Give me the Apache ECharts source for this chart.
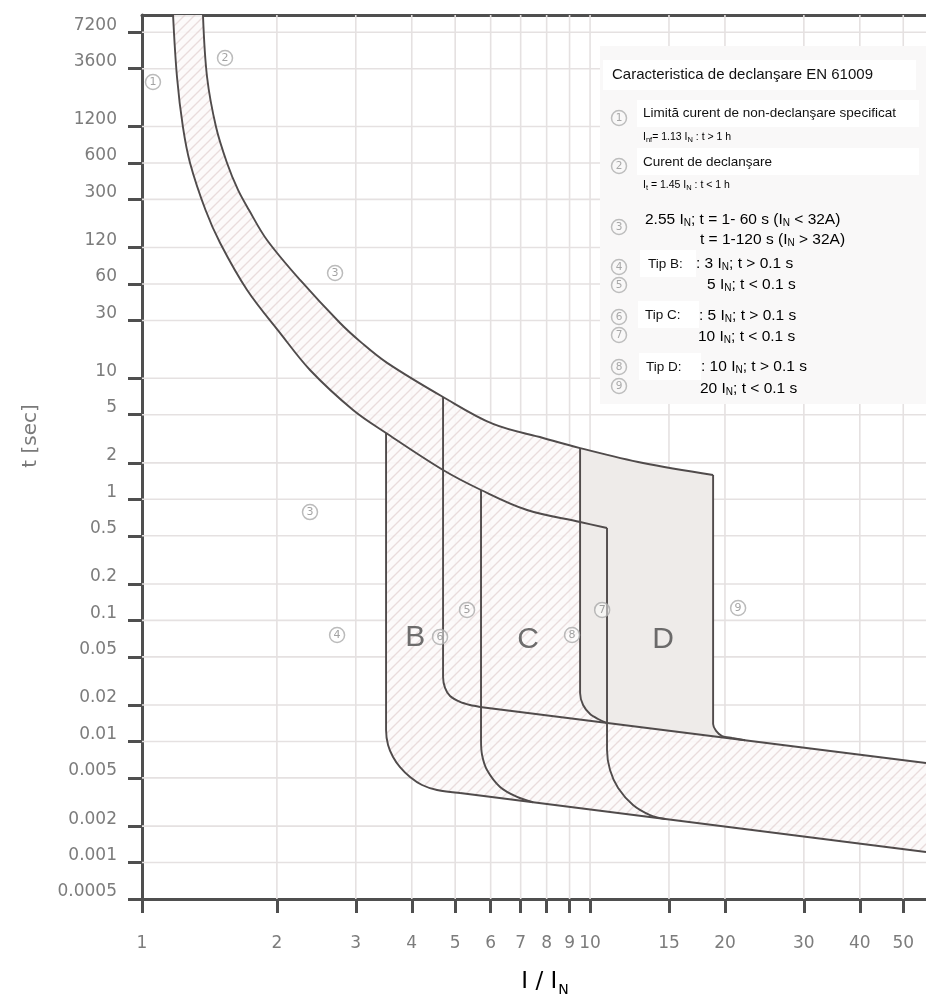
<!DOCTYPE html>
<html><head><meta charset="utf-8">
<script src="https://cdn.jsdelivr.net/npm/echarts@6/dist/echarts.min.js"></script>
<style>html,body{margin:0;padding:0;background:#fff}#c{width:926px;height:999px}</style>
</head><body><div id="c"></div>
<script>
// ---------- data (I/In , t[s]) ----------
const xTicks = [1,2,3,4,5,6,7,8,9,10,15,20,30,40,50];
const yTicks = [7200,3600,1200,600,300,120,60,30,10,5,2,1,0.5,0.2,0.1,0.05,0.02,0.01,0.005,0.002,0.001,0.0005];
const xRange = [1, 56.2];
const yRange = [0.0005, 10000];

// (1) non-tripping limit, thermal band lower edge
const curveNonTrip = [[1.173,10000],[1.197,3076],[1.234,1189],[1.280,600],[1.386,245],[1.494,131],[1.716,53.6],[2.032,23.7],[2.371,11.7],[2.958,5.47],[3.505,3.53],[4.698,1.746],[5.71,1.194],[7.234,0.816],[9.50,0.650],[10.91,0.579]];
// (2) tripping current, thermal band upper edge
const curveTrip = [[1.368,10000],[1.397,3076],[1.463,1189],[1.548,600],[1.638,359],[1.733,245],[1.901,138.6],[2.253,64.8],[2.767,28.6],[3.098,19.5],[3.524,13.4],[4.698,7.0],[6.074,4.19],[7.855,3.21],[9.50,2.65],[13.13,1.995],[18.82,1.588]];
// magnetic release limits
const bLeft  = [[3.505,3.53],[3.505,0.01245],[3.541,0.00935],[3.633,0.00745],[3.766,0.00615],[3.965,0.00509],[4.217,0.00437],[4.555,0.00397],[5.127,0.003753]];
const bRight = [[4.698,7.0],[4.698,0.0341],[4.746,0.0277],[4.870,0.02375],[5.127,0.0212],[5.397,0.0200],[5.681,0.01928]];
const cLeft  = [[5.71,1.194],[5.71,0.01028],[5.741,0.00773],[5.889,0.00581],[6.297,0.00421],[6.873,0.00348],[7.461,0.00315]];
const cRight = [[9.50,2.65],[9.50,0.0251],[9.647,0.0200],[10.0,0.01686],[10.42,0.01534],[10.91,0.0142]];
const dLeft  = [[10.91,0.579],[10.91,0.00851],[11.08,0.00581],[11.55,0.00413],[12.47,0.00299],[13.61,0.00247],[14.71,0.00229]];
const dRight = [[18.82,1.588],[18.82,0.01393],[19.11,0.01222],[19.71,0.01109],[20.75,0.0107],[22.18,0.01023]];
// short-circuit band edges
const scLower = [[5.127,0.003753],[56.2,0.001223]];
const scUpper = [[5.681,0.01928],[56.2,0.00664]];

// annotations inside the plot
const circledMarks = [['1',1.058,2797],['2',1.532,4416],['3',2.697,74.0],['3',2.371,0.785],['4',2.725,0.0757],['5',5.314,0.122],['6',4.626,0.0730],['7',10.64,0.122],['8',9.116,0.0757],['9',21.4,0.1265]];
const typeLetters = [['B',4.07,0.0716],['C',7.27,0.0689],['D',14.55,0.0689]];

// legend panel texts
const legendTitle = 'Caracteristica de declanşare EN 61009';
const legendMain = ['Limită curent de non-declanşare specificat','Curent de declanşare'];
const legendTypes = ['Tip B:','Tip C:','Tip D:'];
const yName = 't [sec]';

// ---------- helpers ----------
const L = Math.log10;
const lg = p => [L(p[0]), L(p[1])];
const X0 = L(xRange[0]), X1 = L(xRange[1]), Y0 = L(yRange[0]), Y1 = L(yRange[1]);
const fmt = ticks => v => { let best = ticks[0], d = 1e9; for (const t of ticks) { const e = Math.abs(L(t) - v); if (e < d) { d = e; best = t; } } return String(best); };

function makeHatch() {
  const c = document.createElement('canvas'); c.width = 10; c.height = 10;
  const g = c.getContext('2d');
  g.strokeStyle = 'rgba(218,196,196,0.55)'; g.lineWidth = 1.4;
  g.beginPath();
  g.moveTo(-1,11); g.lineTo(11,-1);
  g.moveTo(-3,3); g.lineTo(3,-3);
  g.moveTo(7,13); g.lineTo(13,7);
  g.stroke();
  return c;
}
const hatch = makeHatch();

const envelope = [
  ...curveNonTrip.slice(0, 11),
  ...bLeft.slice(1),
  ...scLower.slice(1),
  scUpper[1],
  ...dRight.slice().reverse(),
  ...curveTrip.slice(0, -1).reverse()
];
const grayZone = [
  ...curveTrip.filter(p => p[0] >= 9.5),
  ...dRight.slice(1),
  ...cRight.slice().reverse()
];

function polySeries(pts, style, z) {
  return { type: 'custom', coordinateSystem: 'cartesian2d', data: [[0, 0]], z: z, silent: true,
    renderItem: (params, api) => ({ type: 'polygon', shape: { points: pts.map(p => api.coord(lg(p))) }, style: style }) };
}
const lineColor = '#504b4b';
function lineSeries(pts, smooth) {
  return { type: 'line', data: pts.map(lg), showSymbol: false, symbol: 'none', smooth: smooth, z: 5, silent: true,
    lineStyle: { color: lineColor, width: 1.9 } };
}
const gridColor = '#e5e1e1';

const series = [
  { type: 'custom', coordinateSystem: 'cartesian2d', z: 1, silent: true,
    data: xTicks.slice(1).map(v => [L(v), 0]),
    renderItem: (p, api) => { const a = api.coord([api.value(0), Y0]), b = api.coord([api.value(0), Y1]);
      return { type: 'line', shape: { x1: a[0], y1: a[1], x2: b[0], y2: b[1] }, style: { stroke: gridColor, lineWidth: 1.6 } }; } },
  { type: 'custom', coordinateSystem: 'cartesian2d', z: 1, silent: true,
    data: yTicks.slice(0, -1).map(v => [0, L(v)]),
    renderItem: (p, api) => { const a = api.coord([X0, api.value(1)]), b = api.coord([X1, api.value(1)]);
      return { type: 'line', shape: { x1: a[0], y1: a[1], x2: b[0], y2: b[1] }, style: { stroke: gridColor, lineWidth: 1.6 } }; } },
  polySeries(envelope, { fill: 'rgba(252,249,249,0.9)' }, 2),
  polySeries(envelope, { fill: { image: hatch, repeat: 'repeat' } }, 2),
  polySeries(grayZone, { fill: '#eeebe9' }, 3),
  lineSeries(curveNonTrip, 0.35),
  lineSeries(curveTrip, 0.35),
  lineSeries(bLeft, 0.3), lineSeries(bRight, 0.3),
  lineSeries(cLeft, 0.3), lineSeries(cRight, 0.3),
  lineSeries(dLeft, 0.3), lineSeries(dRight, 0.3),
  lineSeries(scLower, false), lineSeries(scUpper, false),
  { type: 'scatter', z: 6, silent: true, data: circledMarks.map(m => [L(m[1]), L(m[2]), m[0]]),
    symbol: 'circle', symbolSize: 15,
    itemStyle: { color: 'rgba(255,255,255,0.6)', borderColor: '#aaa', borderWidth: 1.5 },
    label: { show: true, position: 'inside', formatter: p => p.data[2], color: '#8c8c8c', fontSize: 11, fontFamily: 'DejaVu Sans' } },
  { type: 'scatter', z: 6, silent: true, data: typeLetters.map(m => [L(m[1]), L(m[2]), m[0]]),
    symbol: 'circle', symbolSize: 1, itemStyle: { color: 'rgba(0,0,0,0)' },
    label: { show: true, position: 'inside', formatter: p => p.data[2], color: '#4a4a4a', fontSize: 30, fontFamily: 'Liberation Sans' } }
];

// ---------- legend panel (layout) ----------
const gray = '#b2b2b2';
const richSmall = { n: { fontSize: 10.5, color: gray, fontFamily: 'Liberation Sans' }, s: { fontSize: 7.5, color: gray, fontFamily: 'Liberation Sans', padding: [5, 0, 0, 0] } };
const richBig = { n: { fontSize: 15.5, color: gray, fontFamily: 'Liberation Sans' }, s: { fontSize: 10, color: gray, fontFamily: 'Liberation Sans', padding: [7, 0, 0, 0] } };
function gtext(x, y, text, big) { return { type: 'text', x: x, y: y, z: 11, style: { text: text, rich: big ? richBig : richSmall, verticalAlign: 'middle', align: 'left' } }; }
function box(x, y, w, h) { return { type: 'rect', z: 10, shape: { x: x, y: y, width: w, height: h }, style: { fill: '#ffffff' } }; }
function btext(x, y, t, fs) { return { type: 'text', x: x, y: y, z: 12, style: { text: t, fill: '#111', fontSize: fs, fontFamily: 'Liberation Sans', verticalAlign: 'middle', align: 'left' } }; }
const circleYs = [118, 166, 227, 267, 285, 317, 335, 367, 386];
const graphic = [
  { type: 'rect', z: 9, shape: { x: 600, y: 46, width: 326, height: 358 }, style: { fill: '#f9f8f8' } },
  box(603, 60, 313, 30), btext(612, 75, legendTitle, 15),
  box(637, 100, 282, 27), btext(643, 113, legendMain[0], 13.5),
  gtext(643, 137, '{n|I}{s|nf}{n|= 1.13 I}{s|N}{n| : t > 1 h}', false),
  box(637, 148, 282, 27), btext(643, 162, legendMain[1], 13.5),
  gtext(643, 185, '{n|I}{s|t}{n| = 1.45 I}{s|N}{n| : t < 1 h}', false),
  gtext(645, 220, '{n|2.55 I}{s|N}{n|; t = 1- 60 s (I}{s|N}{n| < 32A)}', true),
  gtext(700, 240, '{n|t = 1-120 s (I}{s|N}{n| > 32A)}', true),
  box(640, 250, 56, 27), btext(648, 264, legendTypes[0], 13.5),
  gtext(696, 264, '{n|: 3 I}{s|N}{n|; t > 0.1 s}', true),
  gtext(707, 285, '{n|5 I}{s|N}{n|; t < 0.1 s}', true),
  box(638, 301, 61, 27), btext(645, 315, legendTypes[1], 13.5),
  gtext(699, 316, '{n|: 5 I}{s|N}{n|; t > 0.1 s}', true),
  gtext(698, 337, '{n|10 I}{s|N}{n|; t < 0.1 s}', true),
  box(639, 353, 62, 27), btext(646, 367, legendTypes[2], 13.5),
  gtext(701, 367, '{n|: 10 I}{s|N}{n|; t > 0.1 s}', true),
  gtext(700, 389, '{n|20 I}{s|N}{n|; t < 0.1 s}', true),
  ...circleYs.map((y, i) => ({ type: 'circle', z: 11, shape: { cx: 619, cy: y, r: 7.5 }, style: { fill: 'none', stroke: '#bdbdbd', lineWidth: 1.5 } })),
  ...circleYs.map((y, i) => ({ type: 'text', z: 12, x: 619, y: y, style: { text: String(i + 1), fill: '#a8a8a8', fontSize: 10.5, fontFamily: 'DejaVu Sans', align: 'center', verticalAlign: 'middle' } })),
  { type: 'text', z: 12, x: 31, y: 436, rotation: Math.PI / 2, style: { text: yName, fill: '#7a7a7a', fontSize: 20, fontFamily: 'DejaVu Sans', align: 'center', verticalAlign: 'middle' } },
  { type: 'text', z: 12, x: 545, y: 982, style: { text: '{m|I / I}{s|N}', align: 'center', verticalAlign: 'middle',
      rich: { m: { fontSize: 23, color: '#7a7a7a', fontFamily: 'DejaVu Sans' }, s: { fontSize: 14, color: '#7a7a7a', fontFamily: 'DejaVu Sans', padding: [16, 0, 0, 1] } } } }
];

const axisCol = '#4f4f4f';
const option = {
  animation: false,
  grid: { left: 142, top: 15, right: 0, bottom: 100, outerBoundsMode: 'none', containLabel: false },
  xAxis: [
    { type: 'value', min: X0, max: X1,
      axisLine: { show: true, onZero: false, lineStyle: { color: axisCol, width: 3 } },
      axisTick: { show: true, customValues: xTicks.map(L), length: 14, lineStyle: { color: axisCol, width: 3 } },
      axisLabel: { customValues: xTicks.map(L), formatter: fmt(xTicks), margin: 36, color: '#7c7c7c', fontSize: 17, fontFamily: 'DejaVu Sans', verticalAlign: 'top' },
      splitLine: { show: false } },
    { type: 'value', min: X0, max: X1, position: 'top',
      axisLine: { show: true, onZero: false, lineStyle: { color: axisCol, width: 3 } },
      axisTick: { show: false }, axisLabel: { show: false }, splitLine: { show: false } }
  ],
  yAxis: { type: 'value', min: Y0, max: Y1,
    axisLine: { show: true, onZero: false, lineStyle: { color: axisCol, width: 3 } },
    axisTick: { show: true, customValues: yTicks.map(L), length: 14, lineStyle: { color: axisCol, width: 3 } },
    axisLabel: { customValues: yTicks.map(L), formatter: fmt(yTicks), margin: 25, color: '#7c7c7c', fontSize: 17, fontFamily: 'DejaVu Sans', verticalAlign: 'bottom', lineHeight: 14 },
    splitLine: { show: false } },
  series: series,
  graphic: graphic
};
const chart = echarts.init(document.getElementById('c'), null, { renderer: 'canvas' });
chart.setOption(option);
</script></body></html>
